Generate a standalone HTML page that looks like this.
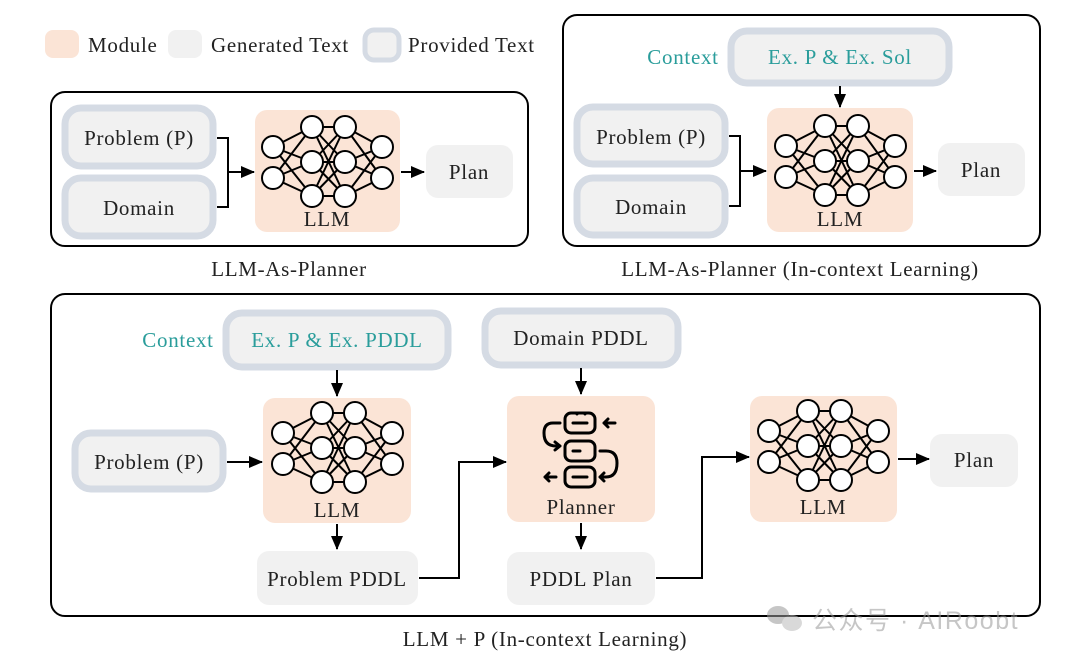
<!DOCTYPE html>
<html><head><meta charset="utf-8"><style>
html,body{margin:0;padding:0;background:#fff;}
svg{display:block;}
text{font-family:"Liberation Serif",serif;font-size:21px;letter-spacing:0.7px;fill:#222;}
.t{fill:#2a9d9b;}
</style></head><body>
<svg width="1080" height="662" viewBox="0 0 1080 662" xmlns="http://www.w3.org/2000/svg">
<defs>
<g id="net" stroke="#000" stroke-width="2">
<g fill="none">
<path d="M-54,-15L-15,-35M-54,-15L-15,0M-54,-15L-15,34M-54,16L-15,-35M-54,16L-15,0M-54,16L-15,34"/>
<path d="M-15,-35L18,-35M-15,-35L18,0M-15,-35L18,34M-15,0L18,-35M-15,0L18,0M-15,0L18,34M-15,34L18,-35M-15,34L18,0M-15,34L18,34"/>
<path d="M18,-35L55,-15M18,0L55,-15M18,34L55,-15M18,-35L55,16M18,0L55,16M18,34L55,16"/>
</g>
<g fill="#fff">
<circle cx="-54" cy="-15" r="11"/><circle cx="-54" cy="16" r="11"/>
<circle cx="-15" cy="-35" r="11"/><circle cx="-15" cy="0" r="11"/><circle cx="-15" cy="34" r="11"/>
<circle cx="18" cy="-35" r="11"/><circle cx="18" cy="0" r="11"/><circle cx="18" cy="34" r="11"/>
<circle cx="55" cy="-15" r="11"/><circle cx="55" cy="16" r="11"/>
</g>
</g>
<marker id="ar2" markerWidth="14" markerHeight="12" refX="13" refY="6" orient="auto" markerUnits="userSpaceOnUse" viewBox="0 0 14 12"><path d="M0,0L14,6L0,12z" fill="#000"/></marker>
</defs>

<!-- legend -->
<rect x="45" y="30" width="34" height="28" rx="8" fill="#fbe4d6"/>
<text x="88" y="52">Module</text>
<rect x="168" y="30" width="34" height="28" rx="8" fill="#f1f1f1"/>
<text x="211" y="52">Generated Text</text>
<rect x="365" y="30" width="34" height="30" rx="9" fill="#f1f1f1" stroke="#d5dbe4" stroke-width="5"/>
<text x="408" y="52">Provided Text</text>

<!-- panel 1 -->
<rect x="51" y="92" width="477" height="154" rx="14" fill="#fff" stroke="#000" stroke-width="2"/>
<rect x="65" y="108" width="148" height="58" rx="16" fill="#f1f1f1" stroke="#d5dbe4" stroke-width="7"/>
<text x="139" y="145" text-anchor="middle">Problem (P)</text>
<rect x="65" y="178" width="148" height="58" rx="16" fill="#f1f1f1" stroke="#d5dbe4" stroke-width="7"/>
<text x="139" y="215" text-anchor="middle">Domain</text>
<path d="M217,138H228V207H217M228,172H254" fill="none" stroke="#000" stroke-width="2" marker-end="url(#ar2)"/>
<rect x="255" y="110" width="145" height="122" rx="12" fill="#fbe4d6"/>
<use href="#net" x="327" y="162"/>
<text x="327" y="226" text-anchor="middle">LLM</text>
<path d="M401,172H424" stroke="#000" stroke-width="2" marker-end="url(#ar2)"/>
<rect x="426" y="145" width="87" height="53" rx="12" fill="#f1f1f1"/>
<text x="469" y="179" text-anchor="middle">Plan</text>
<text x="289" y="276" text-anchor="middle">LLM-As-Planner</text>

<!-- panel 2 -->
<rect x="563" y="15" width="477" height="231" rx="14" fill="#fff" stroke="#000" stroke-width="2"/>
<text class="t" x="683" y="64" text-anchor="middle">Context</text>
<rect x="731" y="31" width="218" height="52" rx="16" fill="#f1f1f1" stroke="#d5dbe4" stroke-width="7"/>
<text class="t" x="840" y="64" text-anchor="middle">Ex. P &amp; Ex. Sol</text>
<path d="M840,86V107" stroke="#000" stroke-width="2" marker-end="url(#ar2)"/>
<rect x="577" y="107" width="148" height="57" rx="16" fill="#f1f1f1" stroke="#d5dbe4" stroke-width="7"/>
<text x="651" y="144" text-anchor="middle">Problem (P)</text>
<rect x="577" y="178" width="148" height="57" rx="16" fill="#f1f1f1" stroke="#d5dbe4" stroke-width="7"/>
<text x="651" y="214" text-anchor="middle">Domain</text>
<path d="M729,136H740V206H729M740,171H766" fill="none" stroke="#000" stroke-width="2" marker-end="url(#ar2)"/>
<rect x="767" y="108" width="146" height="124" rx="12" fill="#fbe4d6"/>
<use href="#net" x="840" y="161"/>
<text x="840" y="226" text-anchor="middle">LLM</text>
<path d="M914,171H936" stroke="#000" stroke-width="2" marker-end="url(#ar2)"/>
<rect x="938" y="143" width="87" height="53" rx="12" fill="#f1f1f1"/>
<text x="981" y="177" text-anchor="middle">Plan</text>
<text x="800" y="276" text-anchor="middle">LLM-As-Planner (In-context Learning)</text>

<!-- panel 3 -->
<rect x="51" y="294" width="989" height="322" rx="14" fill="#fff" stroke="#000" stroke-width="2"/>
<text class="t" x="178" y="347" text-anchor="middle">Context</text>
<rect x="226" y="313" width="222" height="54" rx="16" fill="#f1f1f1" stroke="#d5dbe4" stroke-width="7"/>
<text class="t" x="337" y="347" text-anchor="middle">Ex. P &amp; Ex. PDDL</text>
<path d="M337,370V396" stroke="#000" stroke-width="2" marker-end="url(#ar2)"/>
<rect x="485" y="311" width="193" height="54" rx="16" fill="#f1f1f1" stroke="#d5dbe4" stroke-width="7"/>
<text x="581" y="345" text-anchor="middle">Domain PDDL</text>
<path d="M581,368V394" stroke="#000" stroke-width="2" marker-end="url(#ar2)"/>

<rect x="75" y="433" width="148" height="56" rx="16" fill="#f1f1f1" stroke="#d5dbe4" stroke-width="7"/>
<text x="149" y="469" text-anchor="middle">Problem (P)</text>
<path d="M227,462H262" stroke="#000" stroke-width="2" marker-end="url(#ar2)"/>
<rect x="263" y="398" width="148" height="125" rx="12" fill="#fbe4d6"/>
<use href="#net" x="337" y="448"/>
<text x="337" y="517" text-anchor="middle">LLM</text>
<path d="M337,524V549" stroke="#000" stroke-width="2" marker-end="url(#ar2)"/>
<rect x="257" y="551" width="161" height="54" rx="12" fill="#f1f1f1"/>
<text x="337" y="586" text-anchor="middle">Problem PDDL</text>
<path d="M419,578H459V462H506" fill="none" stroke="#000" stroke-width="2" marker-end="url(#ar2)"/>

<rect x="507" y="396" width="148" height="126" rx="12" fill="#fbe4d6"/>
<g fill="none" stroke="#000" stroke-width="3" stroke-linecap="round" stroke-linejoin="round">
<rect x="565" y="413" width="30" height="20" rx="6"/>
<rect x="565" y="441" width="30" height="20" rx="6"/>
<rect x="565" y="467" width="30" height="20" rx="6"/>
<path d="M573,423H587M573,451H580M573,477H587M577,414V414M585,414V414"/>
<path d="M604,423H615M608,419L604,423L608,427"/>
<path d="M560,423H553Q544,423 544,433Q544,446 556,446H560M555,442L560,446L555,450"/>
<path d="M600,451H606Q617,451 617,463Q617,477 606,477H600M604,473L600,477L604,481"/>
<path d="M556,477H545M549,473L545,477L549,481"/>
</g>
<text x="581" y="514" text-anchor="middle">Planner</text>
<path d="M581,523V549" stroke="#000" stroke-width="2" marker-end="url(#ar2)"/>
<rect x="507" y="552" width="148" height="53" rx="12" fill="#f1f1f1"/>
<text x="581" y="586" text-anchor="middle">PDDL Plan</text>
<path d="M656,578H702V457H749" fill="none" stroke="#000" stroke-width="2" marker-end="url(#ar2)"/>

<rect x="750" y="396" width="147" height="126" rx="12" fill="#fbe4d6"/>
<use href="#net" x="823" y="446"/>
<text x="823" y="514" text-anchor="middle">LLM</text>
<path d="M898,459H929" stroke="#000" stroke-width="2" marker-end="url(#ar2)"/>
<rect x="930" y="434" width="88" height="53" rx="12" fill="#f1f1f1"/>
<text x="974" y="467" text-anchor="middle">Plan</text>
<text x="545" y="646" text-anchor="middle">LLM + P (In-context Learning)</text>

<!-- watermark -->
<g opacity="0.55">
<ellipse cx="778" cy="615" rx="11" ry="9" fill="#999"/>
<ellipse cx="792" cy="623" rx="10" ry="8" fill="#bbb"/>
<text x="812" y="629" style="font-family:'Liberation Sans','Noto Sans CJK SC',sans-serif;font-size:25px;letter-spacing:1.5px;fill:#999">公众号 · AIRoobt</text>
</g>
</svg>
</body></html>
